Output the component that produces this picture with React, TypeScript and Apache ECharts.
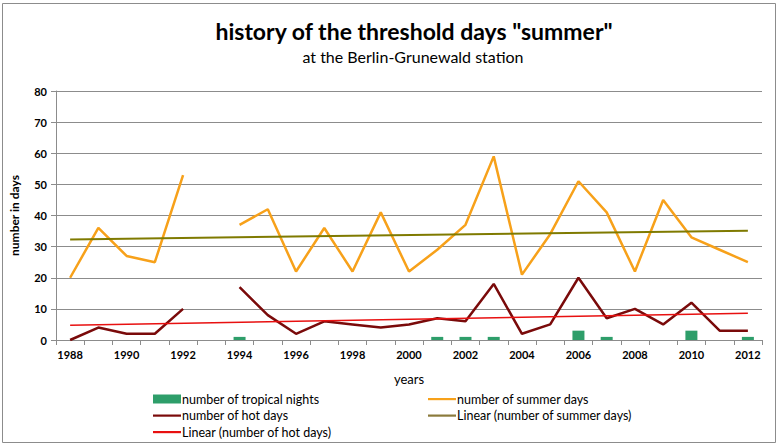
import React, { useEffect, useRef } from "react";
import * as echarts from "echarts";

const years = ["1988","1989","1990","1991","1992","1993","1994","1995","1996","1997","1998","1999","2000","2001","2002","2003","2004","2005","2006","2007","2008","2009","2010","2011","2012"];
const summerDays = [20, 36, 27, 25, 53, null, 37, 42, 22, 36, 22, 41, 22, 29, 37, 59, 21, 34, 51, 41, 22, 45, 33, 29, 25];
const hotDays = [0, 4, 2, 2, 10, null, 17, 8, 2, 6, 5, 4, 5, 7, 6, 18, 2, 5, 20, 7, 10, 5, 12, 3, 3];
const tropicalNights = [0, 0, 0, 0, 0, null, 1, 0, 0, 0, 0, 0, 0, 1, 1, 1, 0, 0, 3, 1, 0, 0, 3, 0, 1];
const summerTrendEnds = [32.3, 35.1];
const hotTrendEnds = [4.7, 8.6];

const NAME_TROP = "number of tropical nights";
const NAME_SUM = "number of summer days";
const NAME_HOT = "number of hot days";
const NAME_LSUM = "Linear (number of summer days)";
const NAME_LHOT = "Linear (number of hot days)";

const FONT = "Lato, 'Noto Sans', sans-serif";

const LINE_ICON = "path://M0,0 L0,0 M0,9 L0,9 M0,3.5 L28,3.5 L28,5.7 L0,5.7 Z";

function trendData(ends: number[]) {
  return years.map((_, i) => (i === 0 ? ends[0] : i === years.length - 1 ? ends[1] : null));
}

export default function App() {
  const ref = useRef<HTMLDivElement>(null);
  useEffect(() => {
    if (!ref.current) return;
    const chart = echarts.init(ref.current, null, { renderer: "svg" });
    const legendText = { fontFamily: FONT, fontSize: 12.5, color: "#000", lineHeight: 14, padding: [0, 0, 0, -4] };
    chart.setOption({
      animation: false,
      backgroundColor: "#ffffff",
      textStyle: { fontFamily: FONT },
      title: [
        {
          text: 'history of the threshold days "summer"',
          left: 409,
          top: 14,
          textAlign: "center",
          textStyle: { fontFamily: FONT, fontSize: 23, fontWeight: "bold", color: "#000" },
        },
        {
          text: "at the Berlin-Grunewald station",
          left: 408,
          top: 43,
          textAlign: "center",
          textStyle: { fontFamily: FONT, fontSize: 16, fontWeight: "normal", color: "#000" },
        },
      ],
      graphic: [
        {
          type: "rect",
          shape: { x: 2.5, y: 3.5, width: 773, height: 439 },
          style: { fill: "none", stroke: "#8c8c8c", lineWidth: 1 },
          silent: true,
        },
      ],
      grid: { left: 56, right: 18, top: 91, bottom: 106, containLabel: false },
      legend: [
        {
          left: 153,
          top: 392,
          orient: "vertical",
          padding: 0,
          itemWidth: 28,
          itemHeight: 9,
          itemGap: 2.5,
          data: [
            { name: NAME_TROP, icon: "rect" },
            { name: NAME_HOT, icon: LINE_ICON },
            { name: NAME_LHOT, icon: LINE_ICON },
          ],
          textStyle: legendText,
        },
        {
          left: 428,
          top: 392,
          orient: "vertical",
          padding: 0,
          itemWidth: 28,
          itemHeight: 9,
          itemGap: 2.5,
          data: [
            { name: NAME_SUM, icon: LINE_ICON },
            { name: NAME_LSUM, icon: LINE_ICON },
          ],
          textStyle: legendText,
        },
      ],
      xAxis: {
        type: "category",
        data: years,
        boundaryGap: true,
        name: "years",
        nameLocation: "middle",
        nameGap: 32,
        nameTextStyle: { fontFamily: FONT, fontSize: 13, color: "#000" },
        axisLine: { lineStyle: { color: "#8c8c8c", width: 1 } },
        axisTick: { show: true, interval: 0, length: 5, lineStyle: { color: "#8c8c8c" } },
        axisLabel: { interval: 1, fontFamily: FONT, fontSize: 11, fontWeight: "bold", color: "#000", margin: 9 },
      },
      yAxis: {
        type: "value",
        min: 0,
        max: 80,
        interval: 10,
        name: "number in days",
        nameLocation: "middle",
        nameGap: 36,
        nameRotate: 90,
        nameTextStyle: { fontFamily: FONT, fontSize: 12, fontWeight: "bold", color: "#000" },
        axisLine: { show: true, lineStyle: { color: "#8c8c8c", width: 1 } },
        axisTick: { show: true, length: 5, lineStyle: { color: "#8c8c8c" } },
        axisLabel: { fontFamily: FONT, fontSize: 11, fontWeight: "bold", color: "#000", margin: 9 },
        splitLine: { show: true, lineStyle: { color: "#8c8c8c", width: 1 } },
      },
      series: [
        {
          name: NAME_TROP,
          type: "bar",
          data: tropicalNights,
          barWidth: 12,
          itemStyle: { color: "#2e9e6a" },
          z: 1,
        },
        {
          name: NAME_SUM,
          type: "line",
          data: summerDays,
          symbol: "none",
          connectNulls: false,
          lineStyle: { color: "#f7a11a", width: 2.5 },
          itemStyle: { color: "#f7a11a" },
          z: 3,
        },
        {
          name: NAME_HOT,
          type: "line",
          data: hotDays,
          symbol: "none",
          connectNulls: false,
          lineStyle: { color: "#7a0a0a", width: 2.5 },
          itemStyle: { color: "#7a0a0a" },
          z: 3,
        },
        {
          name: NAME_LSUM,
          type: "line",
          data: trendData(summerTrendEnds),
          symbol: "none",
          connectNulls: true,
          lineStyle: { color: "#7f7a00", width: 2 },
          itemStyle: { color: "#8b7a3c" },
          z: 4,
        },
        {
          name: NAME_LHOT,
          type: "line",
          data: trendData(hotTrendEnds),
          symbol: "none",
          connectNulls: true,
          lineStyle: { color: "#e81010", width: 1.5 },
          itemStyle: { color: "#e81010" },
          z: 4,
        },
      ],
    });
    return () => chart.dispose();
  }, []);
  return (
    <div
      ref={ref}
      style={{ position: "fixed", left: 0, top: 0, width: 780, height: 446 }}
    />
  );
}
